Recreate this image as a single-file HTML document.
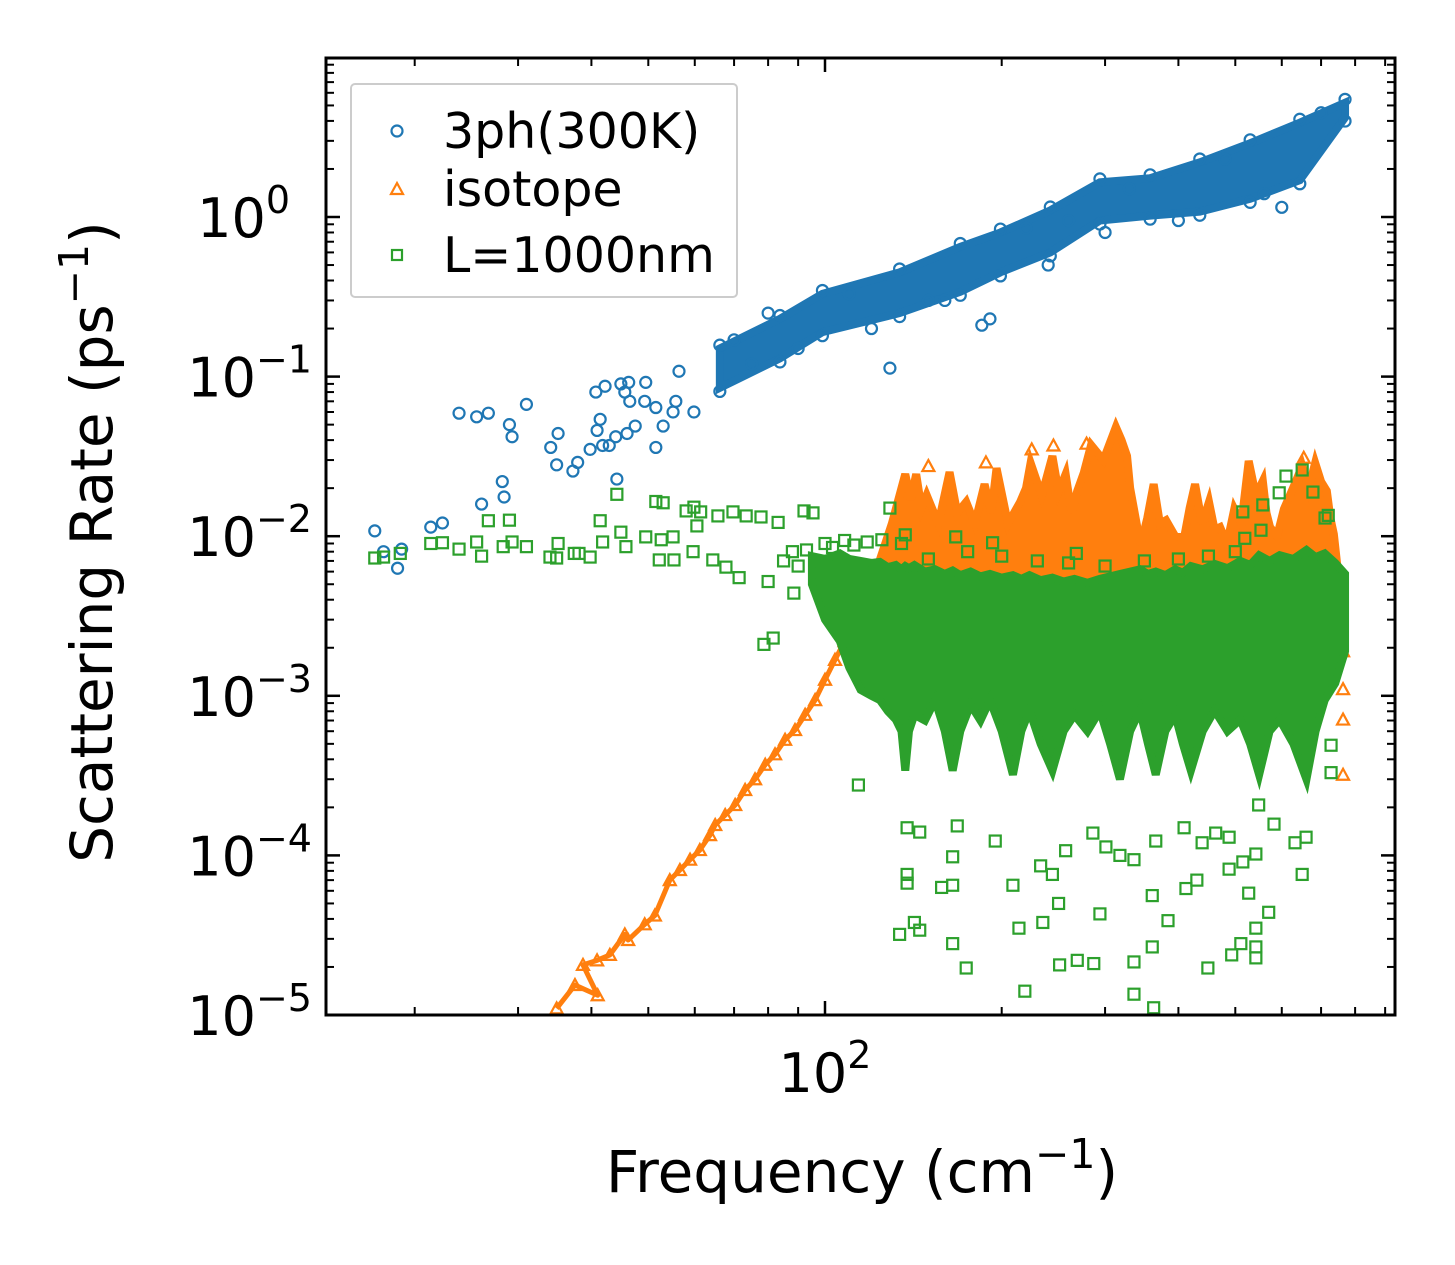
<!DOCTYPE html>
<html><head><meta charset="utf-8"><style>
html,body{margin:0;padding:0;background:#fff;}
svg{display:block;font-family:"DejaVu Sans","Liberation Sans",sans-serif;}
</style></head><body>
<svg id="chart" width="1455" height="1265" viewBox="0 0 1455 1265">
<defs><clipPath id="plotclip"><rect x="326" y="58" width="1069" height="957"/></clipPath></defs>
<g id="series" clip-path="url(#plotclip)"></g>
<g id="axes"></g>
<text x="862" y="1192" font-size="58" text-anchor="middle">Frequency (cm<tspan dy="-24" font-size="41">−1</tspan><tspan dy="24">)</tspan></text>
<text transform="translate(112,542) rotate(-90)" font-size="58" text-anchor="middle">Scattering Rate (ps<tspan dy="-24" font-size="41">−1</tspan><tspan dy="24">)</tspan></text>
<g>
<rect x="351" y="84" width="386" height="213" rx="4" fill="#fff" fill-opacity="0.8" stroke="#cccccc" stroke-width="2"/>
<circle cx="397" cy="131" r="5.5" fill="none" stroke="#1f77b4" stroke-width="2.2"/>
<text x="443" y="148" font-size="49">3ph(300K)</text>
<path d="M397,183 L403,194 L391,194 Z" fill="none" stroke="#ff7f0e" stroke-width="2.2"/>
<text x="443" y="206" font-size="49">isotope</text>
<rect x="392" y="250" width="10" height="10" fill="none" stroke="#2ca02c" stroke-width="2.2"/>
<text x="443" y="272" font-size="49">L=1000nm</text>
</g>
</svg>
<script>
// ---- data ----
const phFreq  = [66.2,83.8,99,134,170,199,242,294,358,435,530,644,769];
const phUpper = [0.15,0.23,0.33,0.45,0.65,0.8,1.1,1.65,1.75,2.2,2.9,3.9,5.2];
const phLower = [0.085,0.13,0.19,0.25,0.34,0.45,0.6,0.95,1.02,1.08,1.3,1.7,4.2];
const phPtFreq = [17.1,17.7,19.0,18.7,21.3,22.3,23.8,25.5,26.7,31.0,29.0,29.3,28.2,28.4,26.0,34.1,35.1,34.9,37.2,37.9,39.8,41.4,40.9,41.8,42.9,44.2,44.0,46.0,47.5,40.7,42.2,44.9,46.3,45.6,46.5,49.5,49.3,51.5,53.0,51.5,55.1,56.4,59.8,55.7,129,191,185,150,300,240,70,75,80,90,110,120,160,220,260,330,400,480,560,600,700];
const phPtVal  = [0.0108,0.0080,0.0083,0.0063,0.0114,0.0121,0.059,0.056,0.059,0.067,0.050,0.042,0.022,0.0176,0.0159,0.036,0.044,0.028,0.0256,0.029,0.035,0.054,0.046,0.037,0.037,0.0228,0.042,0.044,0.049,0.080,0.087,0.090,0.092,0.080,0.070,0.092,0.070,0.064,0.049,0.036,0.060,0.108,0.060,0.070,0.113,0.23,0.21,0.3,0.8,0.5,0.17,0.12,0.25,0.15,0.33,0.2,0.3,0.85,0.95,1.5,0.95,2.3,1.4,1.15,4.5];

const isoFreq  = [124,130,137,140,143,146,149,156,163,168,174,180,187,192,196,205,215,220,224,234,244,250,257,263,269,276,284,298,313,320,327,331,336,341,345,354,363,372,381,395,409,418,427,439,451,461,471,484,498,512,527,542,557,565,573,589,605,627,650,667,684,700,716,726,736,757];
const isoUpper = [0.0071,0.012,0.0245,0.017,0.0245,0.015,0.0181,0.012,0.0252,0.014,0.0164,0.012,0.0212,0.014,0.0267,0.012,0.0164,0.02,0.0288,0.018,0.0318,0.019,0.0245,0.014,0.0192,0.025,0.0373,0.03,0.0483,0.04,0.0318,0.02,0.0148,0.011,0.0088,0.013,0.0212,0.012,0.0126,0.01,0.0098,0.015,0.0212,0.012,0.0164,0.011,0.0114,0.009,0.0148,0.012,0.0296,0.018,0.0222,0.014,0.0114,0.01,0.0148,0.02,0.0275,0.02,0.0288,0.022,0.0192,0.013,0.0103,0.0040];
const isoLow   = 0.004;
const isoPtFreq = [34.9,37.5,41.0,38.7,40.9,43.0,45.6,46.2,49.3,51.3,54.4,56.6,58.9,61.2,63.7,65.0,67.6,70.3,73.1,76.0,79.1,82.2,85.5,88.9,92.5,96.2,100,104,108,150,188,225,245,279,654,763,763,763,763];
const isoPtVal  = [1.1e-5,1.54e-5,1.33e-5,2.06e-5,2.2e-5,2.38e-5,3.2e-5,2.95e-5,3.7e-5,4.2e-5,7.0e-5,8.1e-5,9.4e-5,1.08e-4,1.34e-4,1.55e-4,1.79e-4,2.07e-4,2.57e-4,3.0e-4,3.7e-4,4.3e-4,5.3e-4,6.1e-4,7.6e-4,9.4e-4,1.26e-3,1.68e-3,2.2e-3,0.0275,0.029,0.035,0.037,0.038,0.031,0.0019,0.0011,7.1e-4,3.2e-4];

const bFreq  = [95,100,106,110,115,120,124,128,132,135,137,139,142,148,154,160,165,170,177,184,191,200,209,216,223,233,244,255,266,280,294,306,318,331,344,355,366,380,395,407,420,440,461,485,510,530,549,572,595,628,661,685,710,740,769];
const bUpper = [0.0075,0.0072,0.0078,0.0072,0.0070,0.0068,0.0069,0.0064,0.0066,0.0062,0.0065,0.0063,0.0066,0.0060,0.0062,0.0058,0.0061,0.0057,0.0060,0.0056,0.0058,0.0055,0.0057,0.0054,0.0057,0.0053,0.0055,0.0052,0.0054,0.0051,0.0054,0.0056,0.0058,0.0060,0.0062,0.0058,0.0060,0.0057,0.0062,0.0059,0.0065,0.0062,0.0067,0.0063,0.0070,0.0066,0.0076,0.0070,0.0076,0.0072,0.0082,0.0074,0.0078,0.0068,0.0058];
const bLower = [0.0050,0.0030,0.0022,0.0015,0.00109,0.0010,0.00094,0.0008,0.00071,0.0006,0.00034,0.0006,0.00076,0.0007,0.00094,0.0006,0.00034,0.0006,0.00088,0.0007,0.00094,0.0006,0.00032,0.0006,0.00081,0.0005,0.00034,0.0006,0.00076,0.0006,0.00081,0.0005,0.00030,0.0006,0.00081,0.0005,0.00032,0.0006,0.00076,0.0005,0.00034,0.0006,0.00081,0.0006,0.00071,0.0005,0.00032,0.0006,0.00071,0.0005,0.00030,0.0006,0.00094,0.0012,0.0019];
const bPtFreq = [17.1,17.7,18.9,21.3,22.3,23.8,25.5,26.0,26.7,29.0,28.3,29.3,31.0,34.0,35.1,34.9,37.4,38.1,39.8,41.4,41.8,44.2,44.9,45.8,49.5,51.5,53.0,52.6,55.1,58.0,59.8,61.4,60.5,65.7,69.7,73.4,77.8,83.2,92.1,95.4,71.4,80.0,88.5,78.7,81.6,67.8,64.4,52.2,55.3,59.6,
 114,138,145,168,195,165,138,138,158,165,209,233,244,257,250,294,142,145,134,165,174,214,235,251,269,287,336,219,336,363,361,361,384,412,430,449,493,511,542,542,542,570,527,488,515,542,650,632,660,728,728,463,488,439,366,336,301,286,318,582,409,548,
 610,594,557,515,678,711,553,519,268,193,167,129,137,650,720,85,88,90,93,97,100,103,108,112,118,125,135,150,175,200,230,260,300,350,400,450,500];
const bPtVal  = [0.0073,0.0074,0.0078,0.0090,0.0091,0.0083,0.0092,0.0075,0.0125,0.0126,0.0086,0.0092,0.0086,0.0074,0.0090,0.0073,0.0078,0.0078,0.0074,0.0125,0.0092,0.0183,0.0106,0.0086,0.0099,0.0165,0.0162,0.0095,0.0099,0.0144,0.0152,0.0142,0.0116,0.0134,0.0142,0.0134,0.0132,0.0122,0.0144,0.0140,0.0055,0.0052,0.0044,0.0021,0.0023,0.0064,0.0071,0.0071,0.0071,0.0080,
 2.76e-4,1.49e-4,1.40e-4,1.53e-4,1.23e-4,9.8e-5,7.6e-5,6.7e-5,6.3e-5,6.5e-5,6.5e-5,8.6e-5,7.6e-5,1.07e-4,5.0e-5,4.3e-5,3.8e-5,3.4e-5,3.2e-5,2.8e-5,1.97e-5,3.5e-5,3.8e-5,2.06e-5,2.2e-5,2.1e-5,2.15e-5,1.41e-5,1.35e-5,1.11e-5,5.6e-5,2.67e-5,3.9e-5,6.2e-5,7.0e-5,1.97e-5,2.38e-5,2.8e-5,2.67e-5,2.28e-5,3.5e-5,4.4e-5,5.8e-5,8.2e-5,9.1e-5,1.02e-4,7.6e-5,1.20e-4,1.30e-4,3.3e-4,4.9e-4,1.38e-4,1.30e-4,1.20e-4,1.23e-4,9.4e-5,1.13e-4,1.38e-4,1.0e-4,1.57e-4,1.49e-4,2.07e-4,
 0.0238,0.0187,0.0157,0.0142,0.0189,0.0130,0.0109,0.0097,0.0078,0.0091,0.0099,0.0150,0.0102,0.026,0.0135,0.0070,0.0080,0.0065,0.0082,0.0060,0.0090,0.0085,0.0094,0.0088,0.0092,0.0095,0.0090,0.0072,0.0080,0.0075,0.0070,0.0068,0.0065,0.0070,0.0072,0.0075,0.0080];

const yTickVals = [1e0,1e-1,1e-2,1e-3,1e-4,1e-5];
const yTickExp = ["0","−1","−2","−3","−4","−5"];
const xTickVals = [100];
const xTickExp = ["2"];

// ---- scales ----
const NS = "http://www.w3.org/2000/svg";
function sx(f){ return 825 + 587*Math.log10(f/100); }
function sy(v){ return 217 - 159.6*Math.log10(v); }
const series = document.getElementById('series');
const axes = document.getElementById('axes');
function mk(tag, attrs, parent){ const e=document.createElementNS(NS,tag); for(const k in attrs) e.setAttribute(k,attrs[k]); parent.appendChild(e); return e; }

function band(freq, up, low, color, name){
  let pts = freq.map((f,i)=>sx(f)+','+sy(up[i]));
  for(let i=freq.length-1;i>=0;i--){ const lv = Array.isArray(low)?low[i]:low; pts.push(sx(freq[i])+','+sy(lv)); }
  const p = mk('polygon',{points:pts.join(' '),fill:color,stroke:color,'stroke-width':8,'stroke-linejoin':'miter'},series);
  
  
}
function circ(f,v,name){
  const c = mk('circle',{cx:sx(f),cy:sy(v),r:5.5,fill:'none',stroke:'#1f77b4','stroke-width':2.2},series);
  
  
}
function tri(f,v,name){
  const x=sx(f), y=sy(v);
  const t = mk('path',{d:`M${x},${y-6} L${x+6},${y+5} L${x-6},${y+5} Z`,fill:'none',stroke:'#ff7f0e','stroke-width':2.2},series);
  
  
}
function sq(f,v,name){
  const s = mk('rect',{x:sx(f)-5.5,y:sy(v)-5.5,width:11,height:11,fill:'none',stroke:'#2ca02c','stroke-width':2.2},series);
  
  
}

// blue
band(phFreq, phUpper, phLower, '#1f77b4', '3ph-dense-band');
phFreq.forEach((f,i)=>{ circ(f,phUpper[i]*1.05,'3ph-point'); circ(f,phLower[i]*0.95,'3ph-point'); });
phPtFreq.forEach((f,i)=>circ(f,phPtVal[i],'3ph-point'));
// orange
band(isoFreq, isoUpper, isoLow, '#ff7f0e', 'isotope-dense-band');
let lp = isoPtFreq.slice(0,29).map((f,i)=>sx(f)+','+sy(isoPtVal[i]));
const ln = mk('polyline',{points:lp.join(' '),fill:'none',stroke:'#ff7f0e','stroke-width':5,'stroke-linejoin':'round'},series);


isoPtFreq.forEach((f,i)=>tri(f,isoPtVal[i],'isotope-point'));
// green
band(bFreq, bUpper, bLower, '#2ca02c', 'boundary-dense-band');
bPtFreq.forEach((f,i)=>sq(f,bPtVal[i],'boundary-point'));

// ---- axes ----
const fr = mk('rect',{x:326,y:58,width:1069,height:957,fill:'none',stroke:'#000','stroke-width':3},axes);


function tick(x1,y1,x2,y2,w,name){
  const l = mk('line',{x1,y1,x2,y2,stroke:'#000','stroke-width':w},axes);
  
  
}
for(let d=-5; d<=0; d++){
  const y = sy(Math.pow(10,d));
  tick(326,y,340,y,2.5,'y-major-tick'); tick(1395,y,1381,y,2.5,'y-major-tick');
  for(let m=2;m<=9;m++){
    const ym = sy(m*Math.pow(10,d));
    if(ym<58) continue;
    tick(326,ym,334,ym,2,'y-minor-tick'); tick(1395,ym,1387,ym,2,'y-minor-tick');
  }
}
yTickVals.forEach((v,i)=>{
  const t = mk('text',{x:312,y:sy(v)+20,'font-size':54,'text-anchor':'end'},axes);
  
  
  const a = mk('tspan',{},t); a.textContent='10';
  const b = mk('tspan',{dy:-24,'font-size':38},t); b.textContent=yTickExp[i];
  if(yTickExp[i].length===1) t.setAttribute('x', 290);
});
xTickVals.forEach((v,i)=>{
  const x = sx(v);
  tick(x,1015,x,1001,2.5,'x-major-tick'); tick(x,58,x,72,2.5,'x-major-tick');
  const t = mk('text',{x:x,y:1092,'font-size':54,'text-anchor':'middle'},axes);
  
  
  const a = mk('tspan',{},t); a.textContent='10';
  const b = mk('tspan',{dy:-24,'font-size':38},t); b.textContent=xTickExp[i];
});
[20,30,40,50,60,70,80,90,200,300,400,500,600,700,800,900].forEach(v=>{
  const x = sx(v);
  if(x>1395) return;
  tick(x,1015,x,1007,2,'x-minor-tick'); tick(x,58,x,66,2,'x-minor-tick');
});
</script>
</body></html>
